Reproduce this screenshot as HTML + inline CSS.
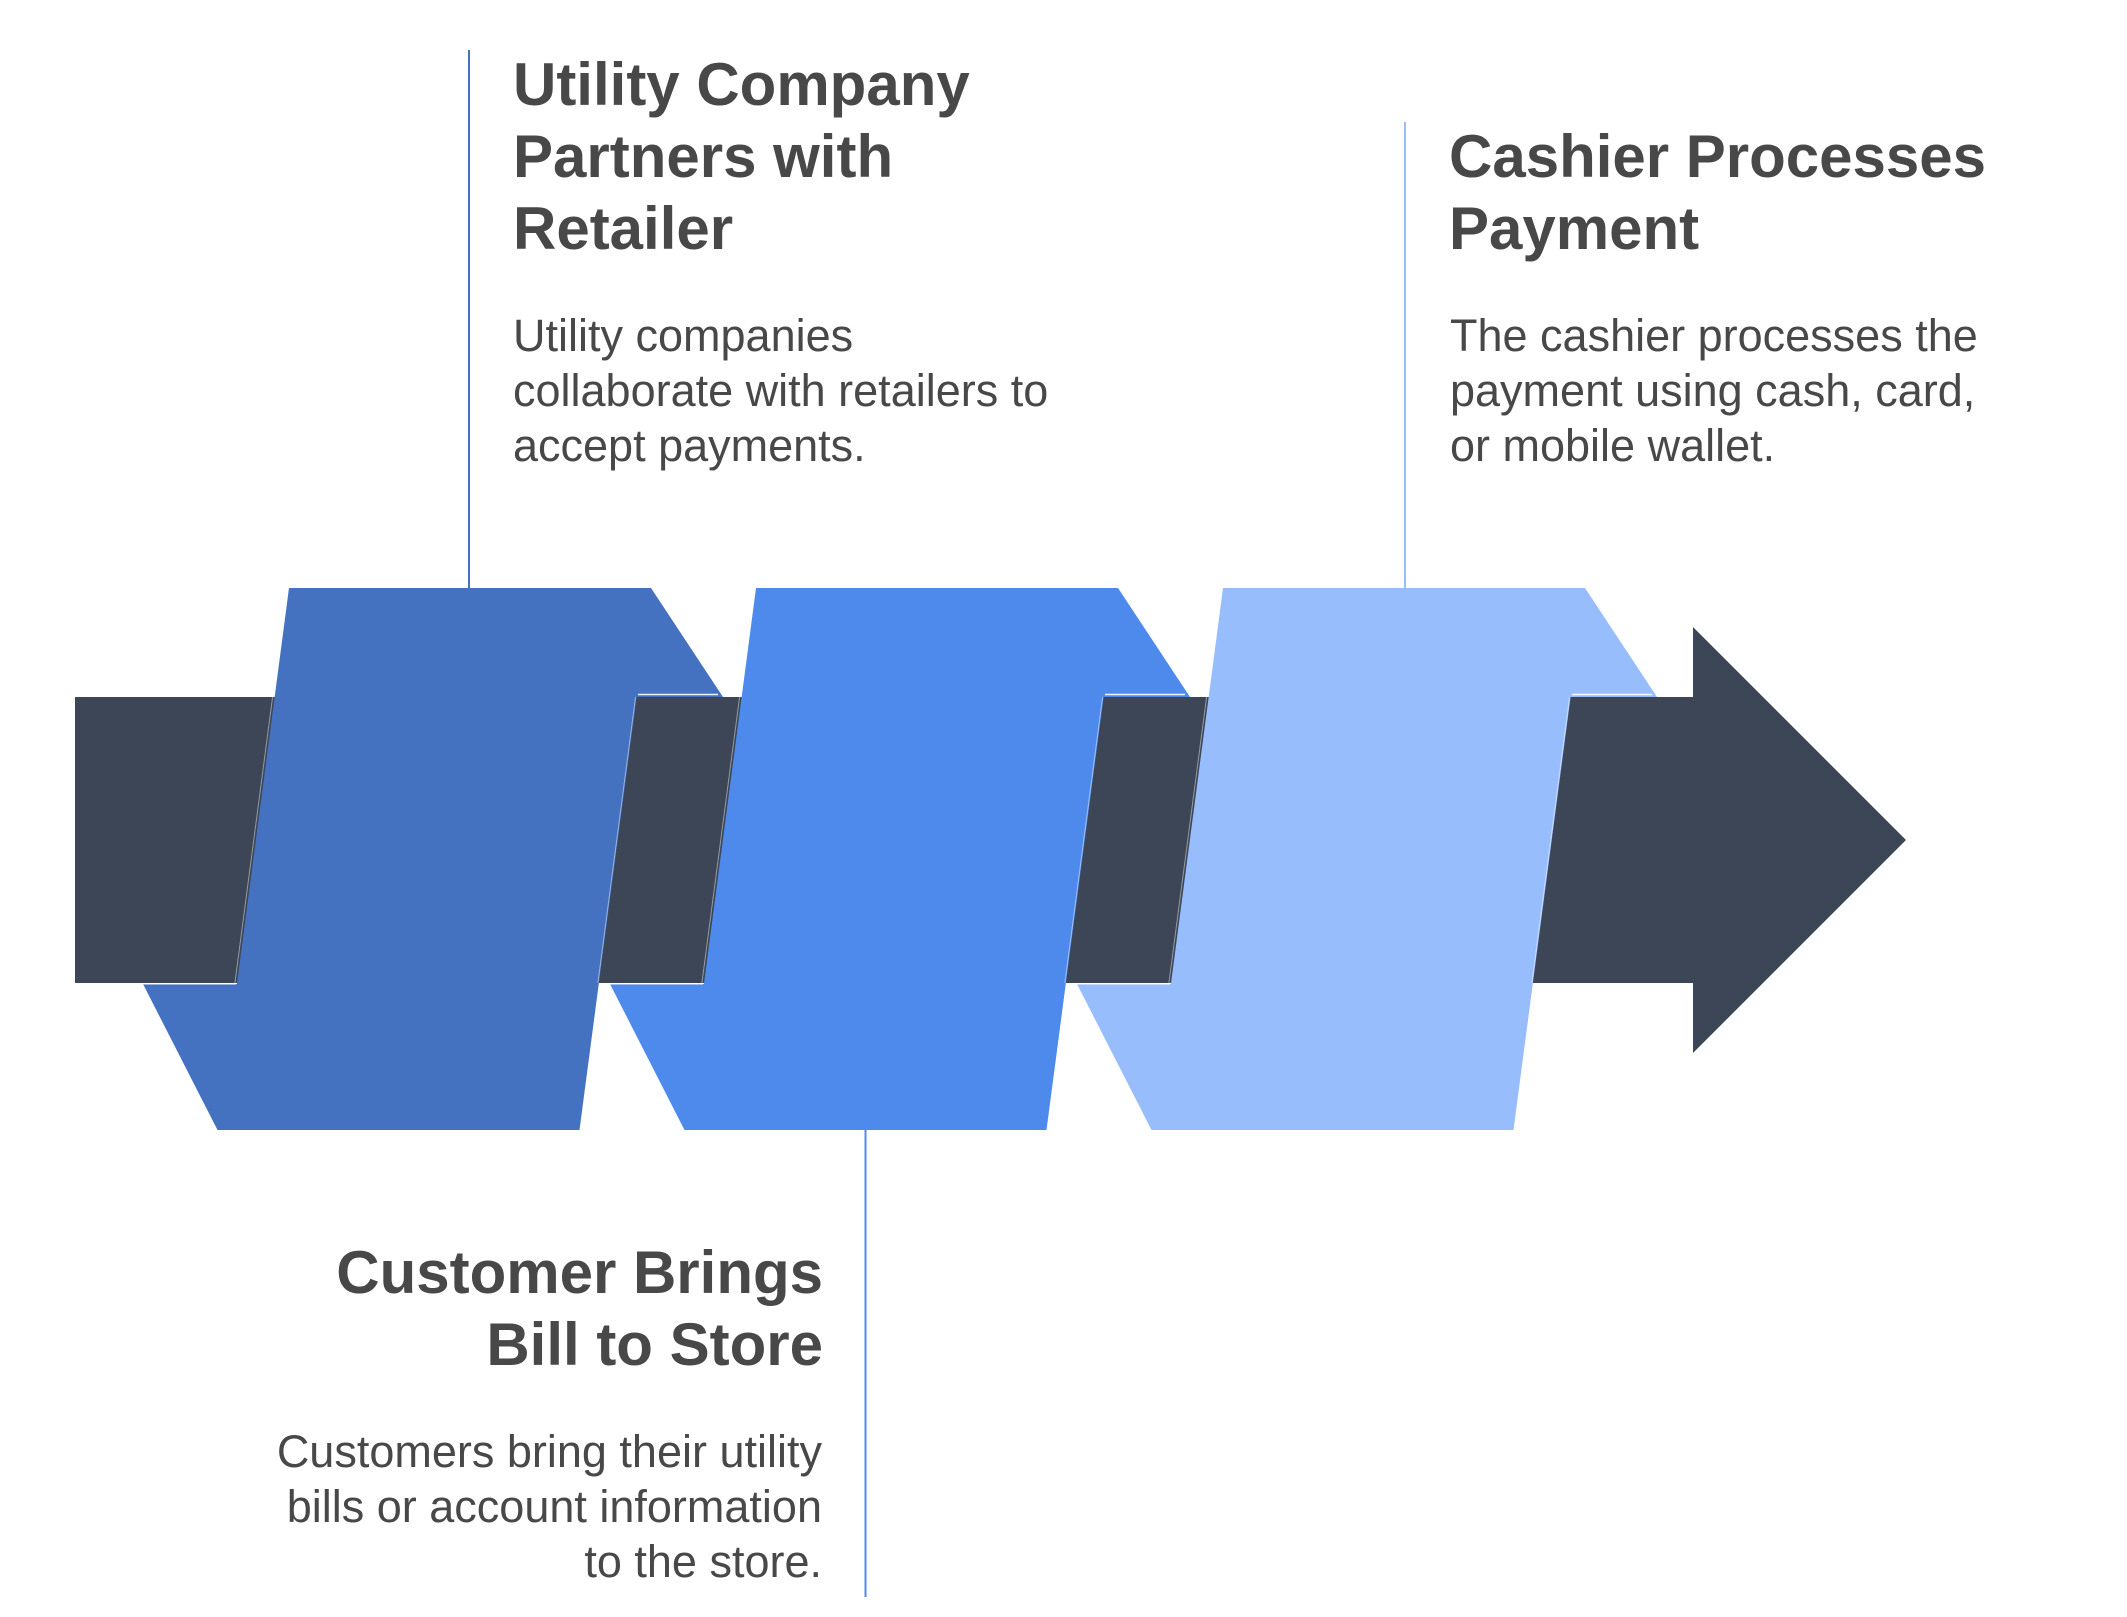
<!DOCTYPE html>
<html>
<head>
<meta charset="utf-8">
<style>
  html, body { margin:0; padding:0; background:#ffffff; }
  body { width:2127px; height:1617px; overflow:hidden; }
  svg { display:block; }
  .t { font-family:"Liberation Sans", Arial, sans-serif; font-weight:bold; font-size:60px; fill:#484848; }
  .b { font-family:"Liberation Sans", Arial, sans-serif; font-weight:normal; font-size:45px; fill:#484848; }
</style>
</head>
<body>
<svg width="2127" height="1617" viewBox="0 0 2127 1617" xmlns="http://www.w3.org/2000/svg">
  <rect x="0" y="0" width="2127" height="1617" fill="#ffffff"/>

  <!-- dark arrow body -->
  <polygon points="75,697 1693,697 1693,627 1906,840 1693,1053 1693,983 75,983" fill="#3c4656"/>

  <!-- shape 1 -->
  <polygon points="289,588 651,588 723,697 636.6,697 579.5,1130 217.5,1130 143,984 236.9,984" fill="#4472c0"/>
  <!-- shape 2 -->
  <polygon points="756,588 1118,588 1190,697 1103.6,697 1046.5,1130 684.5,1130 610,984 703.9,984" fill="#4d8aeb"/>
  <!-- shape 3 -->
  <polygon points="1223,588 1585,588 1657,697 1570.6,697 1513.5,1130 1151.5,1130 1077,984 1170.9,984" fill="#97bdfd"/>

  <!-- subtle white hairlines -->
  <g stroke="#ffffff" stroke-width="1.5" opacity="0.9">
    <line x1="638" y1="694.5" x2="718" y2="694.5"/>
    <line x1="1105" y1="694.5" x2="1185" y2="694.5"/>
    <line x1="1572" y1="694.5" x2="1652" y2="694.5"/>
    <line x1="143" y1="983.8" x2="236" y2="983.8"/>
    <line x1="610" y1="983.8" x2="703" y2="983.8"/>
    <line x1="1077" y1="983.8" x2="1170" y2="983.8"/>
  </g>
  <g stroke="#ffffff" stroke-width="1" opacity="0.45">
    <line x1="272.6" y1="697" x2="234.9" y2="983"/>
    <line x1="739.6" y1="697" x2="701.9" y2="983"/>
    <line x1="1206.6" y1="697" x2="1168.9" y2="983"/>
    <line x1="635.6" y1="697" x2="597.9" y2="983"/>
    <line x1="1102.6" y1="697" x2="1064.9" y2="983"/>
    <line x1="1569.6" y1="697" x2="1531.9" y2="983"/>
  </g>

  <!-- connector lines -->
  <line x1="469" y1="50" x2="469" y2="588" stroke="#4472c0" stroke-width="2"/>
  <line x1="865.5" y1="1130" x2="865.5" y2="1597" stroke="#4d8aeb" stroke-width="2"/>
  <line x1="1405" y1="122" x2="1405" y2="588" stroke="#97bdfd" stroke-width="2"/>

  <!-- Step 1 text -->
  <text class="t" x="513" y="105">Utility Company</text>
  <text class="t" x="513" y="177">Partners with</text>
  <text class="t" x="513" y="249">Retailer</text>
  <text class="b" x="513" y="351">Utility companies</text>
  <text class="b" x="513" y="406">collaborate with retailers to</text>
  <text class="b" x="513" y="461">accept payments.</text>

  <!-- Step 3 text -->
  <text class="t" x="1449" y="177">Cashier Processes</text>
  <text class="t" x="1449" y="249">Payment</text>
  <text class="b" x="1450" y="351">The cashier processes the</text>
  <text class="b" x="1450" y="406">payment using cash, card,</text>
  <text class="b" x="1450" y="461">or mobile wallet.</text>

  <!-- Step 2 text (right aligned) -->
  <text class="t" x="823" y="1293" text-anchor="end">Customer Brings</text>
  <text class="t" x="823" y="1365" text-anchor="end">Bill to Store</text>
  <text class="b" x="822" y="1467" text-anchor="end">Customers bring their utility</text>
  <text class="b" x="822" y="1522" text-anchor="end">bills or account information</text>
  <text class="b" x="822" y="1577" text-anchor="end">to the store.</text>
</svg>
</body>
</html>
